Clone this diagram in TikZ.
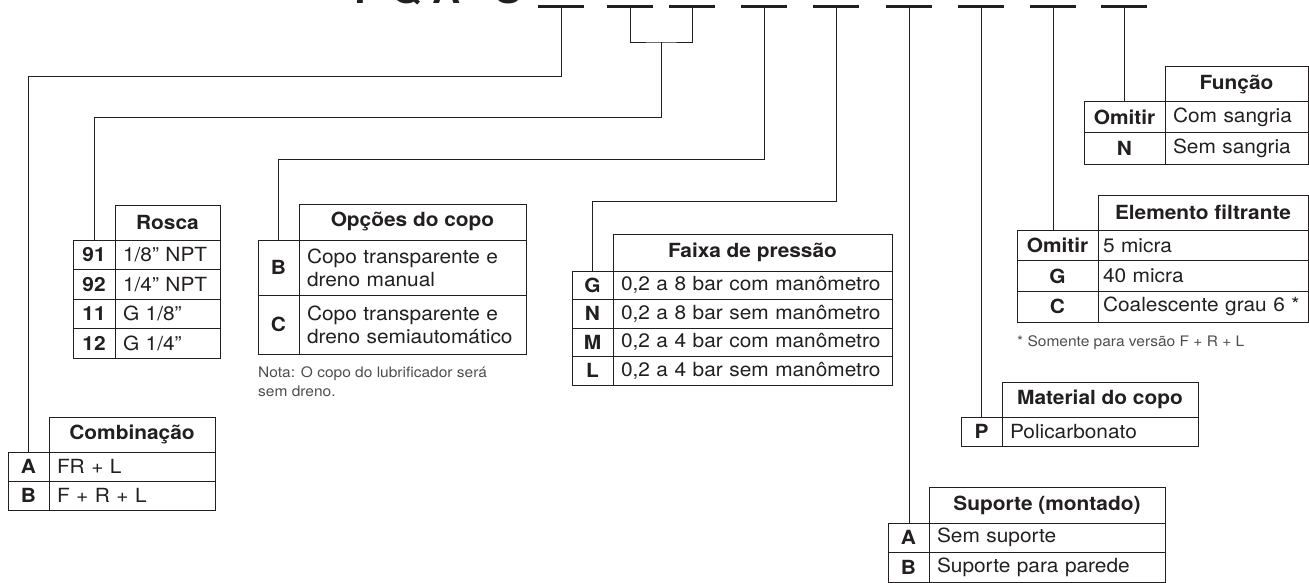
\documentclass[tikz,border=0pt]{standalone}
\usepackage{fontspec}
\setmainfont{TeX Gyre Heros}[FakeStretch=1.07]
\usetikzlibrary{positioning}
\definecolor{ink}{RGB}{35,31,32}
\newcommand\bodyfont{\fontsize{19.5}{23}\selectfont}
\newcommand\headfont{\fontsize{19.5}{23}\selectfont\bfseries}
\newcommand\notefont{\fontsize{14.5}{19}\selectfont}
\newcommand\titlefont{\fontsize{36.5}{40}\selectfont\bfseries}
\tikzset{
  cell/.style={draw=ink, line width=1pt, outer sep=0pt, inner sep=0pt, anchor=north west, text=ink},
  head/.style={cell, font=\headfont, minimum width=#1, minimum height=35pt},
  code/.style={cell, font=\headfont, minimum width=#1},
  txt/.style={cell, font=\bodyfont, inner xsep=8pt, text width=#1, align=left},
  rowh/.style={minimum height=#1},
  wire/.style={draw=ink, line width=0.9pt},
  blank/.style={draw=ink, line width=3pt},
  note/.style={font=\notefont, text=ink!80, inner sep=0pt, align=left}
}
\begin{document}
\begin{tikzpicture}[x=1pt, y=-1pt]
\useasboundingbox (0,0) rectangle (1309,583);

% code and blanks
\node[font=\titlefont, text=ink, inner sep=0pt, anchor=base east] (title) at (522,4) {P Q A - S};
\foreach \x [count=\i] in {561,630,692,764,836,909,981,1053,1124} {
  \coordinate (b\i) at (\x,7);
  \draw[blank] (\x-23,7) -- (\x+23,7);
}
\coordinate (b23) at (661,42);
\coordinate (t1) at (0,76);
\coordinate (t2) at (0,117);
\coordinate (t3) at (0,159);
\coordinate (t4) at (0,201);

% Combinacao
\node[head=166pt] (combH) at (49,417) {Combinação};
\node[code=41pt, rowh=29pt, anchor=north east] (combA) at (combH.south west) {A};
\node[txt=150pt, rowh=29pt, right=0pt of combA] (combAt) {FR + L};
\node[code=41pt, rowh=29pt, below=0pt of combA] (combB) {B};
\node[txt=150pt, rowh=29pt, right=0pt of combB] (combBt) {F + R + L};

% Rosca
\node[head=105pt] (roscaH) at (115,205) {Rosca};
\node[code=42pt, rowh=29.5pt, anchor=north east] (rosca91) at (roscaH.south west) {91};
\node[txt=89pt, rowh=29.5pt, right=0pt of rosca91] (rosca91t) {1/8” NPT};
\node[code=42pt, rowh=29.5pt, below=0pt of rosca91] (rosca92) {92};
\node[txt=89pt, rowh=29.5pt, right=0pt of rosca92] (rosca92t) {1/4” NPT};
\node[code=42pt, rowh=29.5pt, below=0pt of rosca92] (rosca11) {11};
\node[txt=89pt, rowh=29.5pt, right=0pt of rosca11] (rosca11t) {G 1/8”};
\node[code=42pt, rowh=29.5pt, below=0pt of rosca11] (rosca12) {12};
\node[txt=89pt, rowh=29.5pt, right=0pt of rosca12] (rosca12t) {G 1/4”};

% Opcoes do copo
\node[head=227pt, minimum height=36pt] (copoH) at (299,204) {Opções do copo};
\node[code=41pt, rowh=55pt, anchor=north east] (copoB) at (copoH.south west) {B};
\node[txt=211pt, rowh=55pt, right=0pt of copoB] (copoBt) {Copo transparente e\\dreno manual};
\node[code=41pt, rowh=59pt, below=0pt of copoB] (copoC) {C};
\node[txt=211pt, rowh=59pt, right=0pt of copoC] (copoCt) {Copo transparente e\\dreno semiautomático};
\node[note, anchor=north west] (copoN) at (258,366) {Nota: O copo do lubrificador será\\sem dreno.};

% Faixa de pressao
\node[head=279pt, minimum height=37pt] (faixaH) at (613,234) {Faixa de pressão};
\node[code=41pt, rowh=28.5pt, anchor=north east] (faixaG) at (faixaH.south west) {G};
\node[txt=263pt, rowh=28.5pt, right=0pt of faixaG] (faixaGt) {0,2 a 8 bar com manômetro};
\node[code=41pt, rowh=28.5pt, below=0pt of faixaG] (faixaN) {N};
\node[txt=263pt, rowh=28.5pt, right=0pt of faixaN] (faixaNt) {0,2 a 8 bar sem manômetro};
\node[code=41pt, rowh=28.5pt, below=0pt of faixaN] (faixaM) {M};
\node[txt=263pt, rowh=28.5pt, right=0pt of faixaM] (faixaMt) {0,2 a 4 bar com manômetro};
\node[code=41pt, rowh=28.5pt, below=0pt of faixaM] (faixaL) {L};
\node[txt=263pt, rowh=28.5pt, right=0pt of faixaL] (faixaLt) {0,2 a 4 bar sem manômetro};

% Funcao
\node[head=143pt] (funcH) at (1165,67) {Função};
\node[code=81pt, rowh=31pt, anchor=north east] (funcO) at (funcH.south west) {Omitir};
\node[txt=127pt, rowh=31pt, right=0pt of funcO] (funcOt) {Com sangria};
\node[code=81pt, rowh=31pt, below=0pt of funcO] (funcN) {N};
\node[txt=127pt, rowh=31pt, right=0pt of funcN] (funcNt) {Sem sangria};

% Elemento filtrante
\node[head=210pt] (elemH) at (1098,195) {Elemento filtrante};
\node[code=81pt, rowh=30.7pt, anchor=north east] (elemO) at (elemH.south west) {Omitir};
\node[txt=200pt, inner xsep=5pt, rowh=30.7pt, right=0pt of elemO] (elemOt) {5 micra};
\node[code=81pt, rowh=30.7pt, below=0pt of elemO] (elemG) {G};
\node[txt=200pt, inner xsep=5pt, rowh=30.7pt, right=0pt of elemG] (elemGt) {40 micra};
\node[code=81pt, rowh=30.7pt, below=0pt of elemG] (elemC) {C};
\node[txt=200pt, inner xsep=5pt, rowh=30.7pt, right=0pt of elemC] (elemCt) {Coalescente grau 6 *};
\node[note, anchor=north west] (elemN) at (1017,335) {* Somente para versão F + R + L};

% Material do copo
\node[head=196pt] (matH) at (1002,382) {Material do copo};
\node[code=41pt, rowh=29pt, anchor=north east] (matP) at (matH.south west) {P};
\node[txt=180pt, rowh=29pt, right=0pt of matP] (matPt) {Policarbonato};

% Suporte
\node[head=236pt, minimum height=36pt] (supH) at (929,487) {Suporte (montado)};
\node[code=41pt, rowh=29.5pt, anchor=north east] (supA) at (supH.south west) {A};
\node[txt=220pt, rowh=29.5pt, right=0pt of supA] (supAt) {Sem suporte};
\node[code=41pt, rowh=29.5pt, below=0pt of supA] (supB) {B};
\node[txt=220pt, rowh=29.5pt, right=0pt of supB] (supBt) {Suporte para parede};

% connectors
\draw[wire] (b1) -- (b1 |- t1) -| (combA.north);
\draw[wire] (b2) |- (b23) -| (b3);
\draw[wire] (b23) -- (b23 |- t2) -| (rosca91.north);
\draw[wire] (b4) -- (b4 |- t3) -| (copoB.north);
\draw[wire] (b5) -- (b5 |- t4) -| (faixaG.north);
\draw[wire] (b6) -- (b6 |- supA.north);
\draw[wire] (b7) -- (b7 |- matP.north);
\draw[wire] (b8) -- (b8 |- elemO.north);
\draw[wire] (b9) -- (b9 |- funcO.north);
\end{tikzpicture}
\end{document}
